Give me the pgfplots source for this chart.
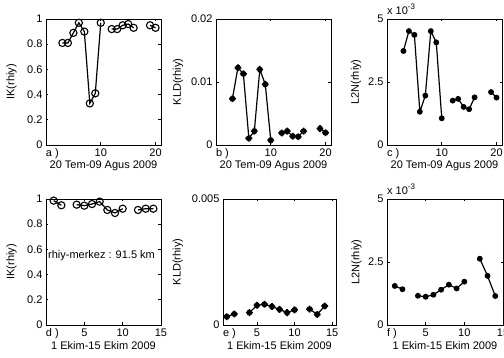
\documentclass[border=0pt]{standalone}
\usepackage{fontspec}
\setmainfont{Liberation Sans}
\usepackage{pgfplots}
\pgfplotsset{compat=1.18}
\pgfdeclareplotmark{mstar}{%
  \pgfpathmoveto{\pgfqpoint{-\pgfplotmarksize}{0pt}}\pgfpathlineto{\pgfqpoint{\pgfplotmarksize}{0pt}}%
  \pgfpathmoveto{\pgfqpoint{0pt}{-\pgfplotmarksize}}\pgfpathlineto{\pgfqpoint{0pt}{\pgfplotmarksize}}%
  \pgfpathmoveto{\pgfqpoint{-0.6\pgfplotmarksize}{-0.6\pgfplotmarksize}}\pgfpathlineto{\pgfqpoint{0.6\pgfplotmarksize}{0.6\pgfplotmarksize}}%
  \pgfpathmoveto{\pgfqpoint{-0.6\pgfplotmarksize}{0.6\pgfplotmarksize}}\pgfpathlineto{\pgfqpoint{0.6\pgfplotmarksize}{-0.6\pgfplotmarksize}}%
  \pgfusepathqstroke}
\pgfplotsset{
  mybase/.style={scale only axis, width=115pt, height=126pt, anchor=south west,
    tick align=inside, major tick length=2.5pt,
    axis line style={line width=0.7pt}, every tick/.style={line width=0.6pt, black},
    font=\fontsize{11}{13}\selectfont,
    /pgf/number format/assume math mode=true,
    scaled y ticks=false, scaled x ticks=false,
    unbounded coords=jump, clip mode=individual,
    xlabel style={at={(axis description cs:0.5,0)}, anchor=center, yshift=-21pt},
  },
  ylab/.style={ylabel style={at={(axis description cs:#1,0.5)}, anchor=center}},
  toprow/.style={xmin=0, xmax=21, xtick={0,10,20}, xlabel={20 Tem-09 Agus 2009}},
  botrow/.style={xmin=0, xmax=15, xtick={0,5,10,15}, xlabel={1 Ekim-15 Ekim 2009}},
  circ/.style={black, line width=1.2pt, mark=o, mark size=3.6pt, mark options={solid, line width=1.1pt}},
  strs/.style={black, line width=1.2pt, mark=mstar, mark size=3.4pt, mark options={solid, line width=1.7pt}},
  dots/.style={black, line width=1.2pt, mark=*, mark size=2.3pt, mark options={solid}},
}
\begin{document}
\begin{tikzpicture}
\useasboundingbox (0,0) rectangle (504pt,358pt);
% a
\begin{axis}[mybase, toprow, at={(46pt,213pt)}, ymin=0, ymax=1, ytick={0,0.2,0.4,0.6,0.8,1},
  xticklabels={\makebox[0pt][l]{a )},10,20}, ylabel={IK(rhiy)}, ylab=-0.3]
\addplot[circ] coordinates {(3,0.81)(4,0.81)(5,0.89)(6,0.97)(7,0.90)(8,0.33)(9,0.41)(10,0.97)(11,nan)(12,0.92)(13,0.92)(14,0.95)(15,0.96)(16,0.93)(17,nan)(19,0.95)(20,0.93)};
\end{axis}
% b
\begin{axis}[mybase, toprow, at={(216pt,213pt)}, ymin=0, ymax=0.02, ytick={0,0.01,0.02}, yticklabels={0,0.01,0.02},
  xticklabels={\makebox[0pt][l]{b )},10,20}, ylabel={KLD(rhiy)}, ylab=-0.33]
\addplot[strs] coordinates {(3,0.00735)(4,0.01227)(5,0.0113)(6,0.00106)(7,0.0022)(8,0.0120)(9,0.00963)(10,0.00075)(11,nan)(12,0.0019)(13,0.0022)(14,0.0014)(15,0.0013)(16,0.0022)(17,nan)(19,0.0026)(20,0.00195)};
\end{axis}
% c
\begin{axis}[mybase, toprow, at={(387pt,213pt)}, ymin=0, ymax=5, ytick={0,2.5,5}, yticklabels={0,2.5,5},
  xticklabels={\makebox[0pt][l]{c )},10,20}, ylabel={L2N(rhiy)}, ylab=-0.27]
\addplot[dots] coordinates {(3,3.73)(4,4.52)(5,4.37)(6,1.32)(7,1.96)(8,4.52)(9,4.07)(10,1.06)(11,nan)(12,1.76)(13,1.83)(14,1.51)(15,1.42)(16,1.89)(17,nan)(19,2.10)(20,1.88)};
\node[anchor=south west, inner sep=0pt, yshift=4pt] at (rel axis cs:0,1) {x 10\raisebox{5pt}{\fontsize{8}{9}\selectfont -3}};
\end{axis}
% d
\begin{axis}[mybase, botrow, at={(46pt,33pt)}, ymin=0, ymax=1, ytick={0,0.2,0.4,0.6,0.8,1},
  xticklabels={\makebox[0pt][l]{d )},5,10,15}, ylabel={IK(rhiy)}, ylab=-0.3]
\addplot[circ] coordinates {(1,0.987)(2,0.95)(3,nan)(4,0.955)(5,0.947)(6,0.96)(7,0.979)(8,0.913)(9,0.889)(10,0.923)(11,nan)(12,0.913)(13,0.923)(14,0.923)};
\node[anchor=west, inner sep=0pt] at (axis cs:0.25,0.55) {rhiy-merkez : 91.5 km};
\end{axis}
% e
\begin{axis}[mybase, botrow, xmin=0.5, xmax=15.5, width=113pt, at={(223pt,33pt)}, ymin=0, ymax=0.005, ytick={0,0.005}, yticklabels={0,0.005},
  xticklabels={\makebox[0pt][l]{e )},5,10,15}, xtick={0.5,5,10,15}, ylabel={KLD(rhiy)}, ylab=-0.4]
\addplot[strs] coordinates {(1,0.00033)(2,0.00044)(3,nan)(4,0.00049)(5,0.00078)(6,0.00082)(7,0.00073)(8,0.00062)(9,0.00049)(10,0.0006)(11,nan)(12,0.00063)(13,0.00042)(14,0.00075)};
\end{axis}
% f
\begin{axis}[mybase, botrow, width=116pt, at={(387pt,33pt)}, ymin=0, ymax=5, ytick={0,2.5,5}, yticklabels={0,2.5,5},
  xticklabels={\makebox[0pt][l]{f )},5,10,15}, ylabel={L2N(rhiy)}, ylab=-0.263]
\addplot[dots] coordinates {(1,1.55)(2,1.42)(3,nan)(4,1.16)(5,1.12)(6,1.20)(7,1.40)(8,1.60)(9,1.45)(10,1.72)(11,nan)(12,2.63)(13,1.95)(14,1.15)};
\node[anchor=south west, inner sep=0pt, yshift=4pt] at (rel axis cs:0,1) {x 10\raisebox{5pt}{\fontsize{8}{9}\selectfont -3}};
\end{axis}
\end{tikzpicture}
\end{document}
